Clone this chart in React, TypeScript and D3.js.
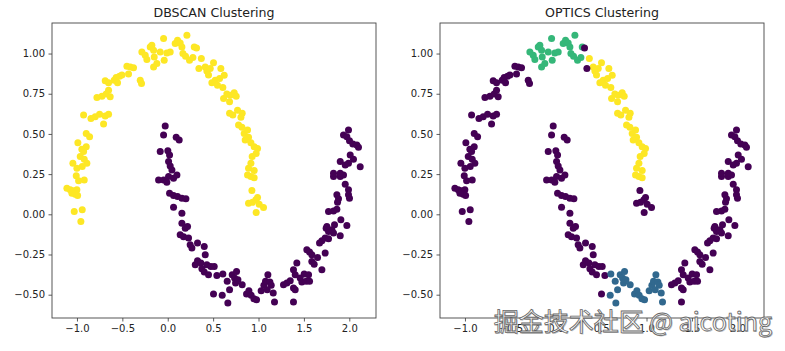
import { useRef, useEffect } from "react";
import * as d3 from "d3";

type Pt = [number, number];

// upper moon, left arm (DBSCAN 1, OPTICS noise)
const upperLeftArm: Pt[] = [
  [-1.045, 0.317], [-0.99, 0.445], [-0.946, 0.404], [-0.898, 0.421], [-0.927, 0.39],
  [-0.964, 0.359], [-0.92, 0.342], [-0.942, 0.297], [-1.001, 0.286], [-0.891, 0.317],
  [-0.898, 0.503], [-0.861, 0.483], [-0.927, 0.617], [-0.846, 0.596], [-0.799, 0.607],
  [-0.751, 0.623], [-0.707, 0.561], [-0.689, 0.611], [-0.652, 0.623], [-0.78, 0.727],
  [-0.725, 0.735], [-0.678, 0.748], [-0.652, 0.772], [-0.634, 0.731], [-0.689, 0.83],
  [-0.652, 0.818], [-0.59, 0.834], [-0.568, 0.851], [-0.531, 0.859], [-0.553, 0.818],
  [-0.505, 0.866], [-0.45, 0.921], [-0.413, 0.917], [-0.377, 0.911], [-0.432, 0.872],
  [-0.303, 0.834], [-0.289, 0.814], [-1.111, 0.162], [-1.074, 0.152], [-1.037, 0.146],
  [-1.001, 0.152], [-1.019, 0.125], [-0.993, 0.117], [-1.056, 0.131], [-0.982, 0.208],
  [-0.92, 0.214], [-1.03, 0.017], [-0.942, 0.028], [-0.957, -0.045], [-1.008, 0.24],
];

// upper moon, top (DBSCAN 1, OPTICS 1)
const upperTop: Pt[] = [
  [-0.285, 1.01], [-0.248, 0.99], [-0.23, 0.963], [-0.193, 1.041], [-0.175, 1.052],
  [-0.156, 1.021], [-0.149, 0.979], [-0.156, 0.917], [-0.12, 0.938], [-0.046, 1.093],
  [-0.083, 1.01], [-0.039, 0.959], [-0.01, 1.004], [0.027, 1.01], [0.082, 1.062],
  [0.108, 1.083], [0.137, 1.066], [0.156, 1.041], [0.167, 1.0], [0.211, 1.114],
  [0.196, 0.983], [0.24, 0.959], [0.277, 0.975], [0.292, 1.041],
];

// upper moon, right arm (DBSCAN 1, OPTICS 2)
const upperRightArm: Pt[] = [
  [0.37, 0.969], [0.413, 0.917], [0.431, 0.892], [0.468, 0.907], [0.504, 0.942],
  [0.449, 0.866], [0.486, 0.818], [0.523, 0.834], [0.548, 0.803], [0.571, 0.845],
  [0.585, 0.907], [0.607, 0.789], [0.622, 0.865], [0.615, 0.721], [0.651, 0.748],
  [0.688, 0.741], [0.732, 0.756], [0.754, 0.735], [0.681, 0.7], [0.681, 0.628],
  [0.717, 0.617], [0.769, 0.648], [0.806, 0.603], [0.82, 0.628], [0.78, 0.555],
  [0.817, 0.541], [0.842, 0.503], [0.879, 0.524], [0.89, 0.479], [0.853, 0.462],
  [0.916, 0.445], [0.952, 0.421], [0.989, 0.41], [0.974, 0.379], [0.93, 0.359],
  [0.916, 0.317], [0.89, 0.286], [0.952, 0.272], [0.879, 0.245], [0.916, 0.235],
  [0.952, 0.228],
];

// upper moon, gap points (DBSCAN 1, OPTICS noise)
const upperGap: Pt[] = [
  [0.317, 1.035], [0.343, 0.907],
];

// upper moon, tail (DBSCAN 1, OPTICS noise)
const upperTail: Pt[] = [
  [0.927, 0.148], [0.89, 0.069], [0.934, 0.075], [0.971, 0.09], [1.007, 0.063],
  [0.989, 0.104], [1.055, 0.042], [0.974, 0.011],
];

// lower moon, left arm (DBSCAN 0, OPTICS noise)
const lowerLeftArm: Pt[] = [
  [-0.028, 0.549], [-0.046, 0.493], [-0.083, 0.39], [0.001, 0.396], [0.02, 0.369],
  [0.093, 0.479], [0.126, 0.462], [0.009, 0.328], [0.027, 0.301], [0.046, 0.276],
  [-0.101, 0.214], [-0.046, 0.214], [-0.01, 0.199], [0.009, 0.235], [0.064, 0.224],
  [0.101, 0.245], [0.02, 0.131], [0.064, 0.117], [0.108, 0.11], [0.156, 0.1],
  [0.2, 0.096], [0.064, 0.044], [0.156, 0.007], [0.156, -0.055], [0.193, -0.086],
  [0.218, -0.076], [0.137, -0.127], [0.174, -0.14], [0.229, -0.148], [0.247, -0.19],
  [0.266, -0.21], [0.328, -0.179], [0.402, -0.2], [0.303, -0.314], [0.328, -0.289],
  [0.365, -0.303], [0.413, -0.252], [0.431, -0.314], [0.475, -0.324], [0.512, -0.324],
  [0.376, -0.338], [0.402, -0.359], [0.449, -0.376], [0.541, -0.38], [0.504, -0.496],
];

// lower moon, bottom (DBSCAN 0, OPTICS 0)
const lowerBottom: Pt[] = [
  [0.6, -0.504], [0.655, -0.417], [0.681, -0.469], [0.71, -0.376], [0.736, -0.396],
  [0.758, -0.355], [0.747, -0.427], [0.773, -0.407], [0.82, -0.438], [0.868, -0.496],
  [0.894, -0.475], [0.919, -0.504], [0.949, -0.525], [0.978, -0.531], [1.029, -0.475],
  [1.059, -0.442], [1.077, -0.417], [1.103, -0.376], [1.125, -0.421], [1.14, -0.442],
  [1.162, -0.49], [1.176, -0.545], [0.662, -0.552], [1.096, -0.469], [0.607, -0.372],
];

// lower moon, right arm (DBSCAN 0, OPTICS noise)
const lowerRightArm: Pt[] = [
  [1.275, -0.438], [1.312, -0.427], [1.349, -0.413], [1.385, -0.458], [1.385, -0.345],
  [1.422, -0.303], [1.404, -0.376], [1.459, -0.396], [1.477, -0.421], [1.503, -0.372],
  [1.525, -0.417], [1.562, -0.417], [1.551, -0.376], [1.385, -0.545], [1.404, -0.469],
  [1.532, -0.221], [1.562, -0.235], [1.587, -0.252], [1.587, -0.293], [1.613, -0.31],
  [1.65, -0.268], [1.698, -0.345], [1.734, -0.241], [1.698, -0.165], [1.734, -0.148],
  [1.672, -0.179], [1.771, -0.152], [1.745, -0.086], [1.771, -0.107], [1.808, -0.096],
  [1.826, -0.117], [1.9, -0.134], [1.837, -0.065], [1.753, -0.076], [1.826, 0.021],
  [1.771, 0.017], [1.863, 0.032], [1.907, -0.034], [1.973, -0.07], [1.863, 0.121],
  [1.881, 0.096], [1.87, 0.075], [1.955, 0.187], [1.991, 0.152], [1.991, 0.121],
  [2.002, 0.1], [1.826, 0.235], [1.9, 0.235], [1.936, 0.245], [1.991, 0.524],
  [1.936, 0.493], [1.973, 0.483], [2.002, 0.458], [2.039, 0.437], [2.083, 0.431],
  [2.101, 0.417], [2.01, 0.369], [2.046, 0.342], [1.991, 0.317], [2.12, 0.296],
  [1.9, 0.328], [1.955, 0.307], [1.826, 0.255], [1.9, 0.255],
];

// [points, DBSCAN label, OPTICS label]
const groups: [Pt[], number, number][] = [
  [upperLeftArm, 1, -1],
  [upperTop, 1, 1],
  [upperRightArm, 1, 2],
  [upperGap, 1, -1],
  [upperTail, 1, -1],
  [lowerLeftArm, 0, -1],
  [lowerBottom, 0, 0],
  [lowerRightArm, 0, -1],
];

const xTicks = [-1.0, -0.5, 0.0, 0.5, 1.0, 1.5, 2.0];
const yTicks = [-0.5, -0.25, 0.0, 0.25, 0.5, 0.75, 1.0];
const xDomain: [number, number] = [-1.275, 2.294];
const yDomain: [number, number] = [-0.645, 1.19];

const W = 785;
const H = 351;

const App = () => {
  const svgRef = useRef<SVGSVGElement>(null);

  useEffect(() => {
    const svg = d3.select(svgRef.current);
    svg.selectAll("*").remove();

    const pts = groups.flatMap(([p, db, op]) =>
      p.map((d) => ({ x: d[0], y: d[1], db, op }))
    );

    const panels = [
      { title: "DBSCAN Clustering", left: 52, key: "db" as const },
      { title: "OPTICS Clustering", left: 440, key: "op" as const },
    ];
    const top = 23;
    const pw = 324;
    const ph = 295;

    panels.forEach((p) => {
      const g = svg.append("g").attr("transform", `translate(${p.left},${top})`);
      const x = d3.scaleLinear().domain(xDomain).range([0, pw]);
      const y = d3.scaleLinear().domain(yDomain).range([ph, 0]);

      const labels = pts.map((d) => d[p.key]);
      const [lo, hi] = d3.extent(labels) as [number, number];
      const color = (v: number) => d3.interpolateViridis((v - lo) / (hi - lo));

      g.append("g")
        .selectAll("circle")
        .data(pts)
        .join("circle")
        .attr("cx", (d) => x(d.x))
        .attr("cy", (d) => y(d.y))
        .attr("r", 3.5)
        .attr("fill", (d) => color(d[p.key]));

      const xAxis = g
        .append("g")
        .attr("transform", `translate(0,${ph})`)
        .call(d3.axisBottom(x).tickValues(xTicks).tickFormat(d3.format(".1f")).tickSize(3.5).tickPadding(3.5));
      const yAxis = g
        .append("g")
        .call(d3.axisLeft(y).tickValues(yTicks).tickFormat(d3.format(".2f")).tickSize(3.5).tickPadding(3.5));
      [xAxis, yAxis].forEach((a) => {
        a.select(".domain").remove();
        a.selectAll("line").attr("stroke", "#333").attr("stroke-width", 0.8);
        a.selectAll("text")
          .attr("fill", "#222")
          .style("font-family", "DejaVu Sans")
          .style("font-size", "10px");
      });

      g.append("rect")
        .attr("width", pw)
        .attr("height", ph)
        .attr("fill", "none")
        .attr("stroke", "#444")
        .attr("stroke-width", 0.9);

      g.append("text")
        .attr("x", pw / 2)
        .attr("y", -6.5)
        .attr("text-anchor", "middle")
        .attr("fill", "#222")
        .style("font-family", "DejaVu Sans")
        .style("font-size", "12.6px")
        .text(p.title);
    });

    // watermark: shadow + outlined white text
    const mark = "掘金技术社区 @ aicoting";
    svg
      .append("text")
      .attr("x", 773)
      .attr("y", 332)
      .attr("text-anchor", "end")
      .attr("fill", "#999")
      .attr("fill-opacity", 0.6)
      .style("font-family", "Noto Sans CJK SC")
      .style("font-size", "25px")
      .text(mark);
    svg
      .append("text")
      .attr("x", 772)
      .attr("y", 331)
      .attr("text-anchor", "end")
      .attr("fill", "#fff")
      .attr("fill-opacity", 0.92)
      .attr("stroke", "#666")
      .attr("stroke-width", 0.8)
      .style("font-family", "Noto Sans CJK SC")
      .style("font-size", "25px")
      .text(mark);
  }, []);

  return (
    <svg
      ref={svgRef}
      width={W}
      height={H}
      style={{ position: "absolute", left: 0, top: 0, background: "#fff" }}
    />
  );
};

export default App;
